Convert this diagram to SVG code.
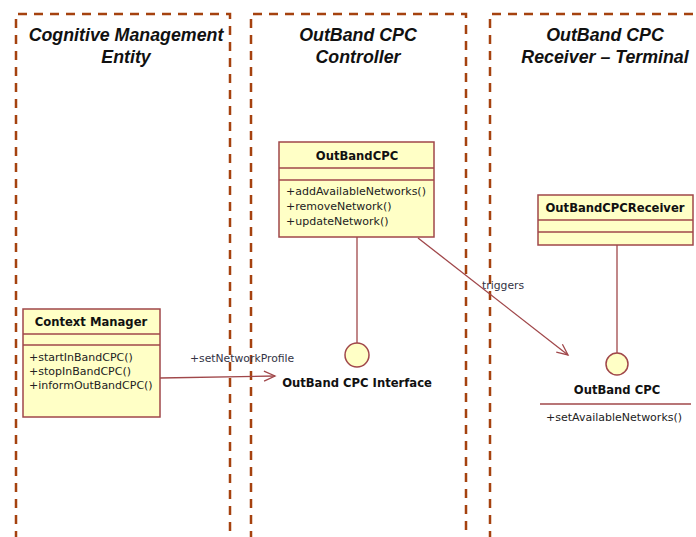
<svg xmlns="http://www.w3.org/2000/svg" width="696" height="537" viewBox="0 0 696 537">
<defs>
<style>
.lane{fill:none;stroke:#A5420F;stroke-width:2.5;stroke-dasharray:9,7}
.title{font-family:"Liberation Sans",Arial,sans-serif;font-weight:bold;font-style:italic;font-size:17.8px;fill:#111;text-anchor:middle}
.cls{fill:#FFFFC6;stroke:#A0474A;stroke-width:1.5}
.sep{stroke:#A0474A;stroke-width:1.5}
.cname{font-family:"DejaVu Sans",Verdana,sans-serif;font-weight:bold;font-size:11.6px;fill:#111;text-anchor:middle}
.meth{font-family:"DejaVu Sans",Verdana,sans-serif;font-size:11px;fill:#222}
.lbl{font-family:"DejaVu Sans",Verdana,sans-serif;font-size:10.8px;fill:#334}
.conn{fill:none;stroke:#A0474A;stroke-width:1.3}
.iface{fill:#FFFFC6;stroke:#A0474A;stroke-width:1.5}
</style>
<marker id="open" markerWidth="14" markerHeight="12" refX="12" refY="6" orient="auto" markerUnits="userSpaceOnUse">
<path d="M1,1 L12,6 L1,11" fill="none" stroke="#A0474A" stroke-width="1.3"/>
</marker>
</defs>
<rect width="696" height="537" fill="#fff"/>
<g id="lanes">
<path class="lane" d="M16,540 V14 H230 V540"/>
<path class="lane" d="M251,540 V14 H466 V540"/>
<path class="lane" d="M490,540 V14 H700"/>
<text class="title" x="126" y="41">Cognitive Management</text>
<text class="title" x="126" y="63">Entity</text>
<text class="title" x="358" y="41">OutBand CPC</text>
<text class="title" x="358" y="63">Controller</text>
<text class="title" x="605" y="41">OutBand CPC</text>
<text class="title" x="605" y="63">Receiver – Terminal</text>
</g>
<g id="connectors">
<line class="conn" x1="357" y1="237" x2="357" y2="343"/>
<line class="conn" x1="617" y1="245" x2="617" y2="353"/>
<line class="conn" x1="160" y1="378" x2="275" y2="376" marker-end="url(#open)"/>
<text class="lbl" x="190" y="362">+setNetworkProfile</text>
<line class="conn" x1="418" y1="238" x2="568" y2="355" marker-end="url(#open)"/>
<text class="lbl" x="482" y="289">triggers</text>
</g>
<g id="OutBandCPC">
<rect class="cls" x="279" y="142" width="155" height="95"/>
<line class="sep" x1="279" y1="168" x2="434" y2="168"/>
<line class="sep" x1="279" y1="180" x2="434" y2="180"/>
<text class="cname" x="357" y="160">OutBandCPC</text>
<text class="meth" x="286" y="195">+addAvailableNetworks()</text>
<text class="meth" x="286" y="210">+removeNetwork()</text>
<text class="meth" x="286" y="225">+updateNetwork()</text>
</g>
<g id="OutBandCPCReceiver">
<rect class="cls" x="538" y="195" width="155" height="50"/>
<line class="sep" x1="538" y1="220" x2="693" y2="220"/>
<line class="sep" x1="538" y1="232" x2="693" y2="232"/>
<text class="cname" x="615" y="212">OutBandCPCReceiver</text>
</g>
<g id="ContextManager">
<rect class="cls" x="23" y="309" width="137" height="108"/>
<line class="sep" x1="23" y1="334" x2="160" y2="334"/>
<line class="sep" x1="23" y1="345" x2="160" y2="345"/>
<text class="cname" x="91" y="326">Context Manager</text>
<text class="meth" x="29" y="361">+startInBandCPC()</text>
<text class="meth" x="29" y="375">+stopInBandCPC()</text>
<text class="meth" x="29" y="389">+informOutBandCPC()</text>
</g>
<g id="OutBandCPCInterface">
<circle class="iface" cx="357" cy="355" r="12"/>
<text class="cname" x="357" y="387">OutBand CPC Interface</text>
</g>
<g id="OutBandCPCReceiverInterface">
<circle class="iface" cx="617" cy="364" r="11"/>
<text class="cname" x="617" y="394">OutBand CPC</text>
<line class="sep" x1="540" y1="404" x2="691" y2="404"/>
<text class="meth" x="546" y="421">+setAvailableNetworks()</text>
</g>
</svg>
